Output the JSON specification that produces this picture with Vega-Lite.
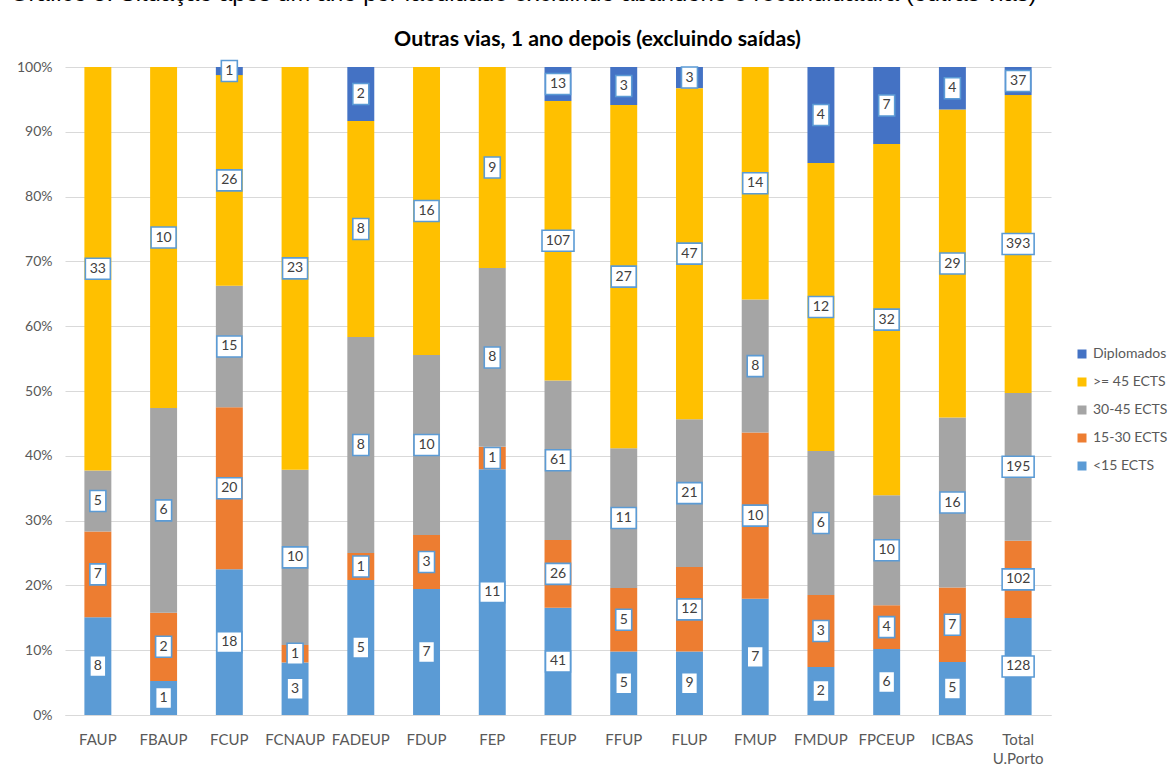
{
 "$schema": "https://vega.github.io/schema/vega-lite/v6.json",
 "autosize": "none",
 "width": 986,
 "height": 648,
 "padding": {"left": 65, "top": 67, "right": 121, "bottom": 54},
 "background": "white",
 "title": {"text": "Gráfico 5. Situação após um ano por faculdade excluindo abandono e recandidatura (outras vias)", "font": "Liberation Sans", "fontSize": 23.8, "fontWeight": "normal", "color": "#000000", "anchor": "start", "frame": "group", "dx": -55, "baseline": "alphabetic", "offset": 3},
 "data": {"values": [
  {"f": "FAUP", "c": "<15 ECTS", "n": 8}, {"f": "FAUP", "c": "15-30 ECTS", "n": 7}, {"f": "FAUP", "c": "30-45 ECTS", "n": 5}, {"f": "FAUP", "c": ">= 45 ECTS", "n": 33},
  {"f": "FBAUP", "c": "<15 ECTS", "n": 1}, {"f": "FBAUP", "c": "15-30 ECTS", "n": 2}, {"f": "FBAUP", "c": "30-45 ECTS", "n": 6}, {"f": "FBAUP", "c": ">= 45 ECTS", "n": 10},
  {"f": "FCUP", "c": "<15 ECTS", "n": 18}, {"f": "FCUP", "c": "15-30 ECTS", "n": 20}, {"f": "FCUP", "c": "30-45 ECTS", "n": 15}, {"f": "FCUP", "c": ">= 45 ECTS", "n": 26}, {"f": "FCUP", "c": "Diplomados", "n": 1},
  {"f": "FCNAUP", "c": "<15 ECTS", "n": 3}, {"f": "FCNAUP", "c": "15-30 ECTS", "n": 1}, {"f": "FCNAUP", "c": "30-45 ECTS", "n": 10}, {"f": "FCNAUP", "c": ">= 45 ECTS", "n": 23},
  {"f": "FADEUP", "c": "<15 ECTS", "n": 5}, {"f": "FADEUP", "c": "15-30 ECTS", "n": 1}, {"f": "FADEUP", "c": "30-45 ECTS", "n": 8}, {"f": "FADEUP", "c": ">= 45 ECTS", "n": 8}, {"f": "FADEUP", "c": "Diplomados", "n": 2},
  {"f": "FDUP", "c": "<15 ECTS", "n": 7}, {"f": "FDUP", "c": "15-30 ECTS", "n": 3}, {"f": "FDUP", "c": "30-45 ECTS", "n": 10}, {"f": "FDUP", "c": ">= 45 ECTS", "n": 16},
  {"f": "FEP", "c": "<15 ECTS", "n": 11}, {"f": "FEP", "c": "15-30 ECTS", "n": 1}, {"f": "FEP", "c": "30-45 ECTS", "n": 8}, {"f": "FEP", "c": ">= 45 ECTS", "n": 9},
  {"f": "FEUP", "c": "<15 ECTS", "n": 41}, {"f": "FEUP", "c": "15-30 ECTS", "n": 26}, {"f": "FEUP", "c": "30-45 ECTS", "n": 61}, {"f": "FEUP", "c": ">= 45 ECTS", "n": 107}, {"f": "FEUP", "c": "Diplomados", "n": 13},
  {"f": "FFUP", "c": "<15 ECTS", "n": 5}, {"f": "FFUP", "c": "15-30 ECTS", "n": 5}, {"f": "FFUP", "c": "30-45 ECTS", "n": 11}, {"f": "FFUP", "c": ">= 45 ECTS", "n": 27}, {"f": "FFUP", "c": "Diplomados", "n": 3},
  {"f": "FLUP", "c": "<15 ECTS", "n": 9}, {"f": "FLUP", "c": "15-30 ECTS", "n": 12}, {"f": "FLUP", "c": "30-45 ECTS", "n": 21}, {"f": "FLUP", "c": ">= 45 ECTS", "n": 47}, {"f": "FLUP", "c": "Diplomados", "n": 3},
  {"f": "FMUP", "c": "<15 ECTS", "n": 7}, {"f": "FMUP", "c": "15-30 ECTS", "n": 10}, {"f": "FMUP", "c": "30-45 ECTS", "n": 8}, {"f": "FMUP", "c": ">= 45 ECTS", "n": 14},
  {"f": "FMDUP", "c": "<15 ECTS", "n": 2}, {"f": "FMDUP", "c": "15-30 ECTS", "n": 3}, {"f": "FMDUP", "c": "30-45 ECTS", "n": 6}, {"f": "FMDUP", "c": ">= 45 ECTS", "n": 12}, {"f": "FMDUP", "c": "Diplomados", "n": 4},
  {"f": "FPCEUP", "c": "<15 ECTS", "n": 6}, {"f": "FPCEUP", "c": "15-30 ECTS", "n": 4}, {"f": "FPCEUP", "c": "30-45 ECTS", "n": 10}, {"f": "FPCEUP", "c": ">= 45 ECTS", "n": 32}, {"f": "FPCEUP", "c": "Diplomados", "n": 7},
  {"f": "ICBAS", "c": "<15 ECTS", "n": 5}, {"f": "ICBAS", "c": "15-30 ECTS", "n": 7}, {"f": "ICBAS", "c": "30-45 ECTS", "n": 16}, {"f": "ICBAS", "c": ">= 45 ECTS", "n": 29}, {"f": "ICBAS", "c": "Diplomados", "n": 4},
  {"f": "Total U.Porto", "c": "<15 ECTS", "n": 128}, {"f": "Total U.Porto", "c": "15-30 ECTS", "n": 102}, {"f": "Total U.Porto", "c": "30-45 ECTS", "n": 195}, {"f": "Total U.Porto", "c": ">= 45 ECTS", "n": 393}, {"f": "Total U.Porto", "c": "Diplomados", "n": 37}
 ]},
 "transform": [{"window": [{"op": "row_number", "as": "rk"}], "groupby": ["f"]}],
 "encoding": {
  "x": {"field": "f", "type": "nominal", "sort": ["FAUP","FBAUP","FCUP","FCNAUP","FADEUP","FDUP","FEP","FEUP","FFUP","FLUP","FMUP","FMDUP","FPCEUP","ICBAS","Total U.Porto"],
        "scale": {"paddingInner": 0.59, "paddingOuter": 0.295},
        "axis": {"orient": "bottom", "title": null, "labelAngle": 0, "labelFont": "Lato", "labelFontSize": 15, "labelColor": "#595959", "labelPadding": 17, "ticks": false, "domainColor": "#D9D9D9", "grid": false, "labelLineHeight": 19,
                 "labelExpr": "datum.value == 'Total U.Porto' ? ['Total', 'U.Porto'] : datum.value"}},
  "order": {"field": "rk", "type": "quantitative"},
  "detail": {"field": "c", "type": "nominal"}
 },
 "layer": [
  {"mark": {"type": "bar"},
   "encoding": {
     "y": {"field": "n", "type": "quantitative", "stack": "normalize", "scale": {"domain": [0, 1], "nice": false},
           "axis": {"orient": "left", "title": null, "values": [0,0.1,0.2,0.3,0.4,0.5,0.6,0.7,0.8,0.9,1], "format": ".0%", "labelFont": "Lato", "labelFontSize": 14, "labelColor": "#595959", "labelPadding": 13, "domain": false, "ticks": false, "grid": true, "gridColor": "#D9D9D9"}},
     "color": {"field": "c", "type": "nominal",
     "scale": {"domain": ["Diplomados", ">= 45 ECTS", "30-45 ECTS", "15-30 ECTS", "<15 ECTS"], "range": ["#4472C4", "#FFC000", "#A5A5A5", "#ED7D31", "#5B9BD5"]},
     "legend": {"title": null, "orient": "none", "legendX": 1010, "legendY": 280, "symbolType": "square", "symbolSize": 81, "symbolStrokeWidth": 0, "labelFont": "Lato", "labelFontSize": 14, "labelColor": "#595959", "rowPadding": 14, "labelOffset": 4}}}},
  {"mark": {"type": "point", "filled": true, "fill": "white", "stroke": "#5B9BD5", "strokeWidth": 1.6, "opacity": 1, "size": 400},
   "encoding": {
     "x": {"field": "f", "type": "nominal", "sort": ["FAUP","FBAUP","FCUP","FCNAUP","FADEUP","FDUP","FEP","FEUP","FFUP","FLUP","FMUP","FMDUP","FPCEUP","ICBAS","Total U.Porto"], "axis": null},
     "y": {"field": "n", "type": "quantitative", "stack": "normalize", "bandPosition": 0.5},
     "shape": {"condition": [{"test": "datum.n >= 100", "value": "M-1.6,-1.05H1.6V1.05H-1.6Z"}, {"test": "datum.n >= 10", "value": "M-1.25,-1.05H1.25V1.05H-1.25Z"}], "value": "M-0.8,-1.05H0.8V1.05H-0.8Z"}}},
  {"mark": {"type": "text", "font": "Lato", "fontSize": 14, "color": "#404040", "baseline": "middle", "align": "center"},
   "encoding": {
     "x": {"field": "f", "type": "nominal", "sort": ["FAUP","FBAUP","FCUP","FCNAUP","FADEUP","FDUP","FEP","FEUP","FFUP","FLUP","FMUP","FMDUP","FPCEUP","ICBAS","Total U.Porto"],
           "axis": {"orient": "top", "labels": false, "ticks": false, "domain": false, "grid": false, "title": "Outras vias, 1 ano depois (excluindo saídas)", "titleFont": "Lato", "titleFontSize": 21.3, "titleFontWeight": "bold", "titleColor": "#000000", "titleX": 532, "titleY": -22, "titleAlign": "center", "titleBaseline": "alphabetic"}},
     "y": {"field": "n", "type": "quantitative", "stack": "normalize", "bandPosition": 0.5},
     "text": {"field": "n", "type": "quantitative"}}}
 ],
 "resolve": {"axis": {"x": "independent"}},
 "config": {"view": {"stroke": null}}
}
